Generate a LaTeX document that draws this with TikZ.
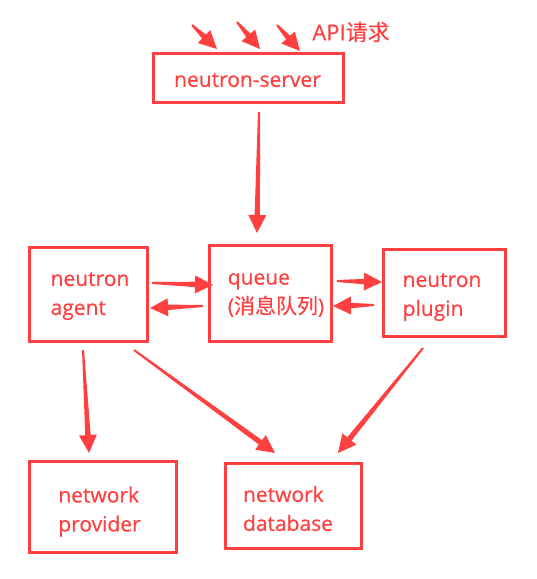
\documentclass[tikz,border=0pt]{standalone}
\usepackage{fontspec}
\setmainfont{Open Sans}[FakeBold=0.5]
\newfontfamily\cjk{Noto Sans CJK SC}[FakeBold=0.4]
\usetikzlibrary{calc}
\definecolor{rd}{RGB}{255,64,64}
\tikzset{
  box/.style={draw=rd, line width=2.6pt, inner sep=0pt},
  txt/.style={text=rd, align=left, inner sep=0pt, font=\fontsize{21}{29}\selectfont},
  arr/.style={fill=rd, draw=none}
}
\newcommand\tarrow[2]{%
  \coordinate (tmpn) at ($(#2)!18pt!(#1)$);
  \fill[arr] ($(#1)!1pt!90:(#2)$) -- ($(tmpn)!2.7pt!90:(#2)$) -- ($(tmpn)!9pt!90:(#2)$) -- (#2)
     -- ($(tmpn)!9pt!-90:(#2)$) -- ($(tmpn)!2.7pt!-90:(#2)$) -- ($(#1)!1pt!-90:(#2)$) -- cycle;
}
\begin{document}
\begin{tikzpicture}[x=1pt,y=-1pt]
\useasboundingbox (0,0) rectangle (537,579);
% boxes
\node[box, minimum width=190pt, minimum height=49pt] (srv) at (248.5,78) {};
\node[box, minimum width=118pt, minimum height=94pt] (ag) at (88.5,294.5) {};
\node[box, minimum width=122pt, minimum height=96pt] (qu) at (270.5,293.5) {};
\node[box, minimum width=122pt, minimum height=87pt] (pl) at (444.5,293) {};
\node[box, minimum width=147pt, minimum height=91pt] (pv) at (103,507) {};
\node[box, minimum width=136pt, minimum height=85pt] (db) at (293.5,506) {};
% texts
\node[txt] (srvt) at (247.5,80) {neutron-server};
\node[txt] (agt) at (90,296) {neutron\\agent};
\node[txt] (qut) at (276,295) {queue\\({\cjk 消息队列})};
\node[txt] (plt) at (442,297) {neutron\\plugin};
\node[txt] (pvt) at (99.5,511.5) {network\\provider};
\node[txt] (dbt) at (288,508.5) {network\\database};
\node[txt, font=\fontsize{22}{26}\selectfont] (api) at (351,32) {API{\cjk 请求}};
% arrow end points
\coordinate (i1s) at (192,25); \coordinate (i1e) at (217,49);
\coordinate (i2s) at (237,22); \coordinate (i2e) at (260,49);
\coordinate (i3s) at (277,25); \coordinate (i3e) at (300,51);
\coordinate (sqs) at (259,112); \coordinate (sqe) at (257,233);
\coordinate (aqs) at (152,283); \coordinate (aqe) at (213,285);
\coordinate (qas) at (203,306); \coordinate (qae) at (150,308);
\coordinate (qps) at (337,281); \coordinate (qpe) at (382,282);
\coordinate (pqs) at (374,305); \coordinate (pqe) at (333,306);
\coordinate (apvs) at (83,350); \coordinate (apve) at (89,453);
\coordinate (adbs) at (134,350); \coordinate (adbe) at (275,453);
\coordinate (pdbs) at (423,348); \coordinate (pdbe) at (338,453);
% arrows
\tarrow{i1s}{i1e}
\tarrow{i2s}{i2e}
\tarrow{i3s}{i3e}
\tarrow{sqs}{sqe}
\tarrow{aqs}{aqe}
\tarrow{qas}{qae}
\tarrow{qps}{qpe}
\tarrow{pqs}{pqe}
\tarrow{apvs}{apve}
\tarrow{adbs}{adbe}
\tarrow{pdbs}{pdbe}
\end{tikzpicture}
\end{document}
